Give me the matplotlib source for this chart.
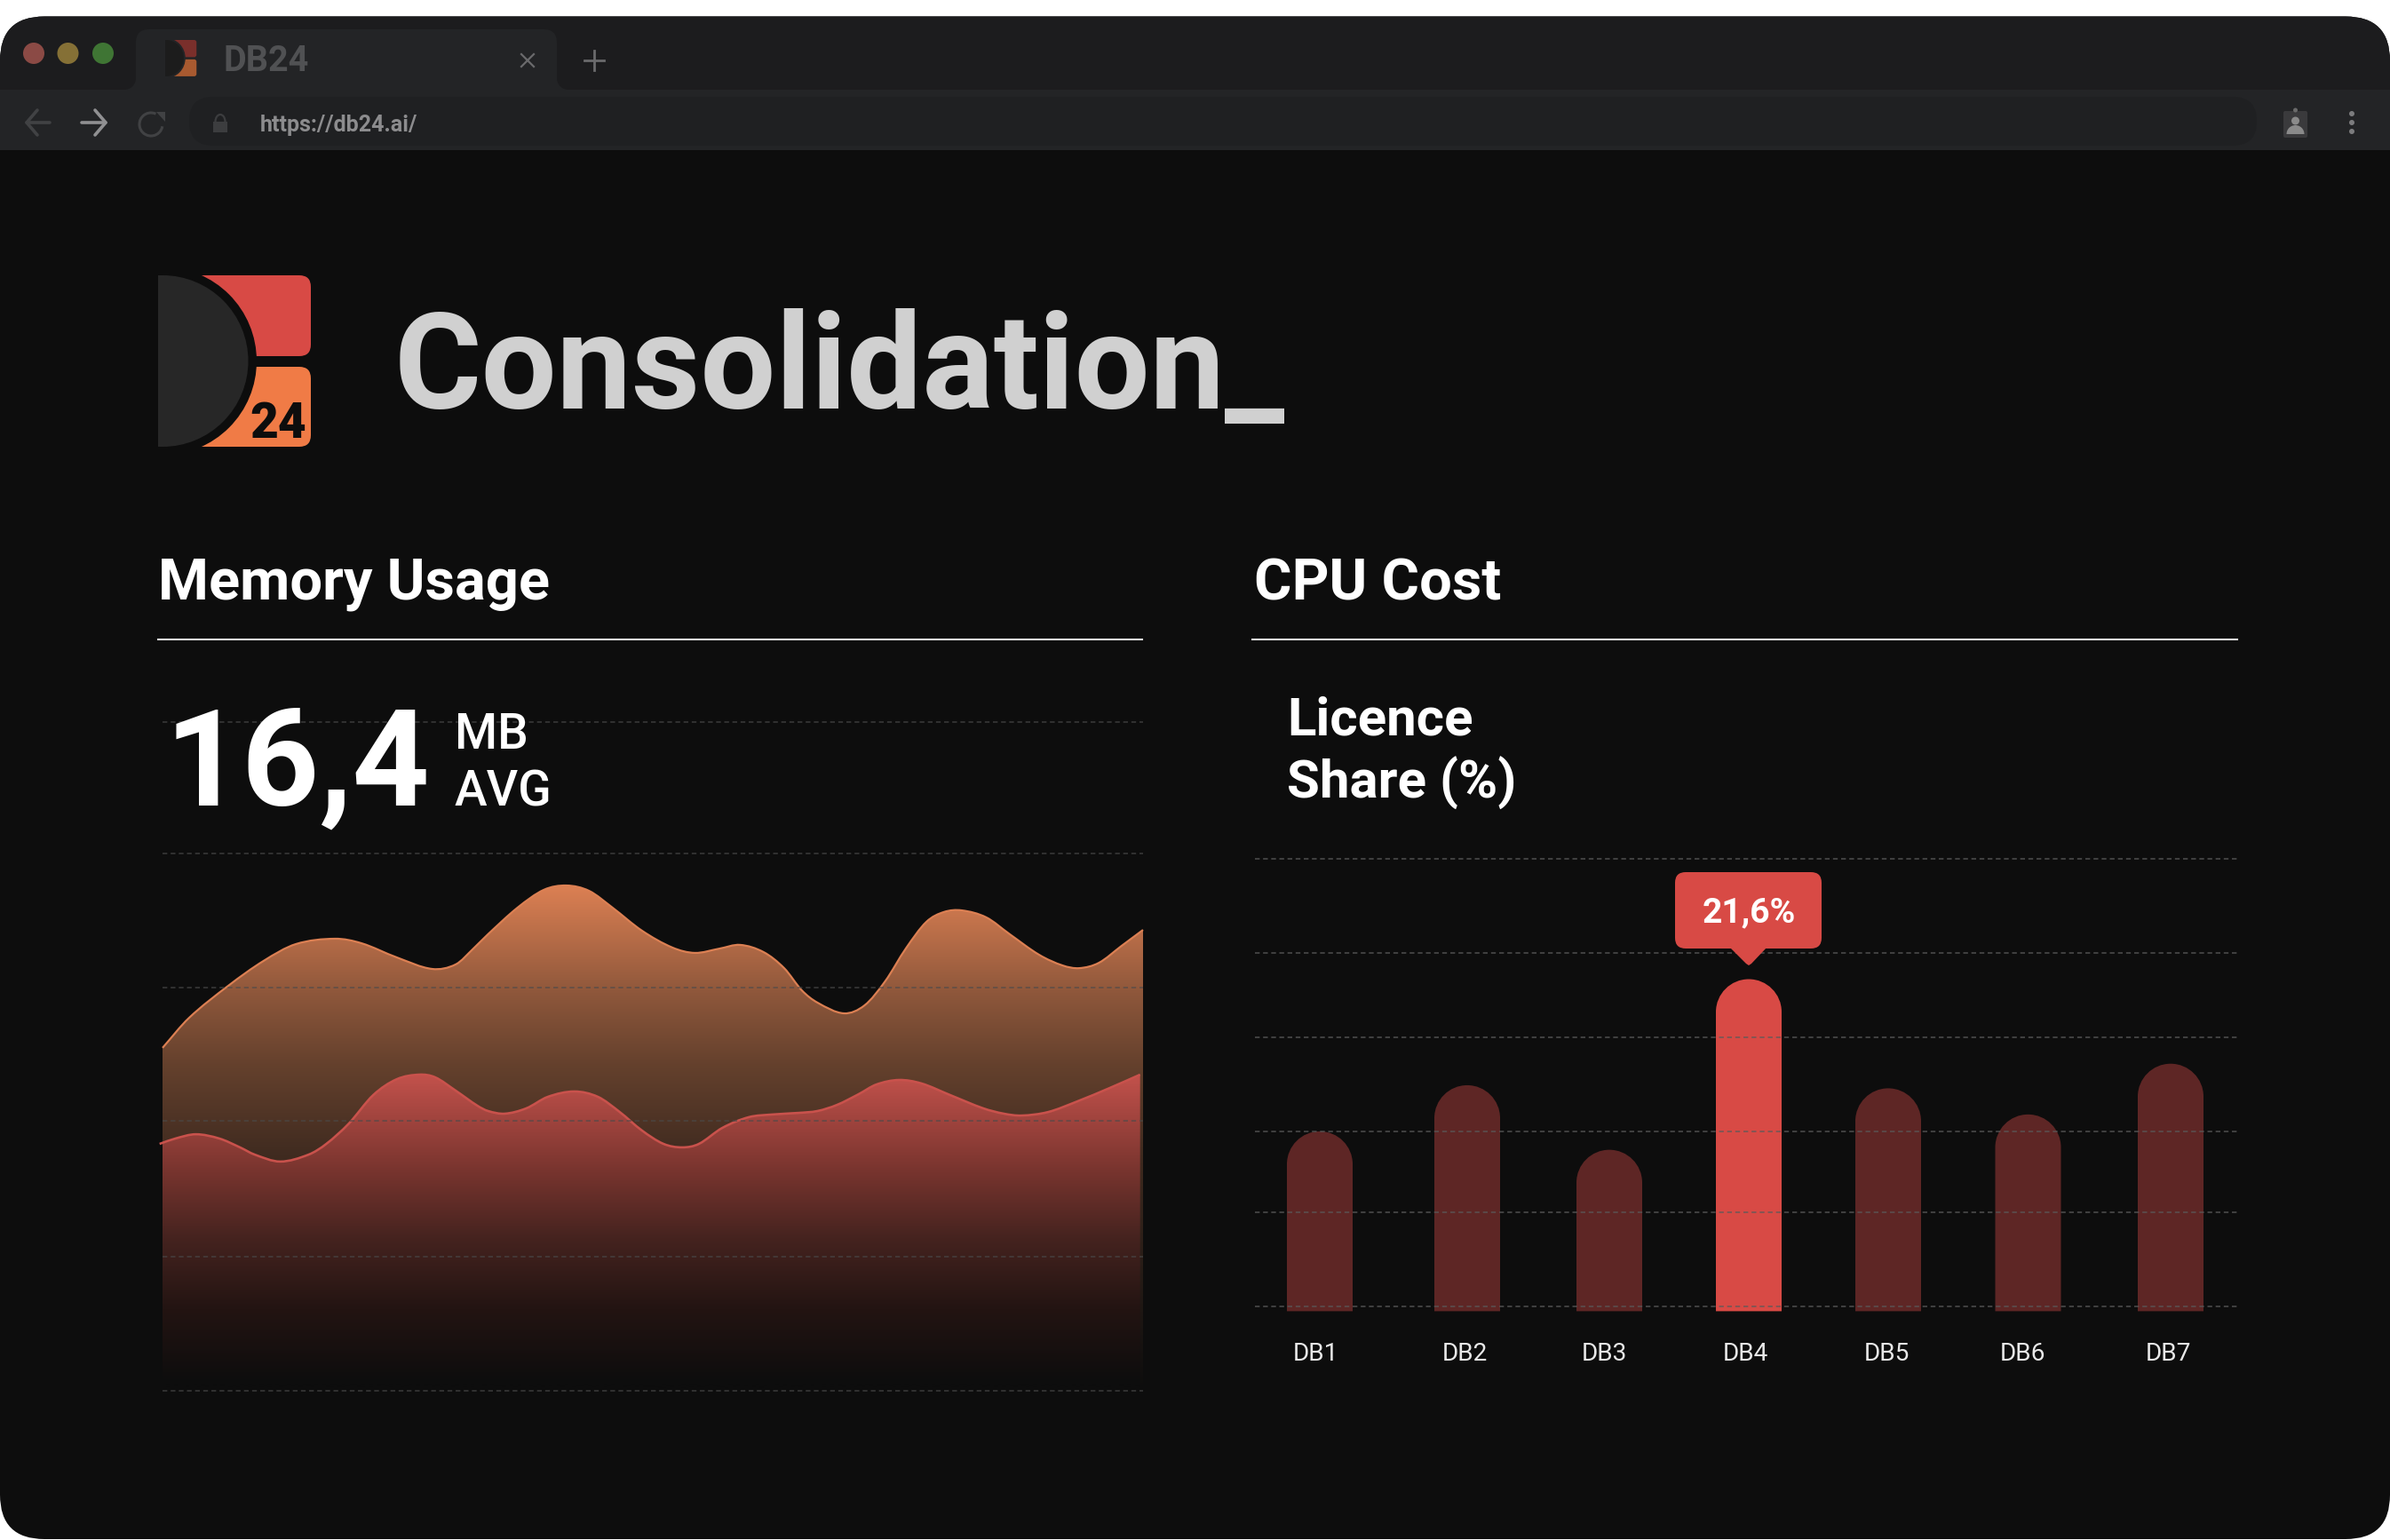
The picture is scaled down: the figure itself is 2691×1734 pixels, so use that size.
"""Consolidation dashboard in a dark browser window."""
import matplotlib
matplotlib.use("Agg")
import matplotlib.pyplot as plt
from matplotlib.colors import to_rgb
from matplotlib.patches import Arc, Circle, Ellipse, FancyBboxPatch, PathPatch, Polygon, Rectangle, Wedge
from matplotlib.path import Path
import numpy as np

plt.rcParams["font.family"] = ["Roboto", "DejaVu Sans"]

W, H = 2691, 1734

# ── Data ────────────────────────────────────────────────────────────────────
UPPER_X = [0, 2.7, 6.7, 10.3, 13.6, 17.6, 20.3, 23.9, 27.5, 29.9, 31.7, 33.2, 36.2, 38.9,
           41.2, 43.5, 45.9, 48.9, 52.0, 54.3, 56.8, 58.9, 61.3, 63.4, 65.2, 66.8, 69.5,
           71.6, 73.7, 75.8, 77.9, 79.7, 81.5, 84.0, 86.4, 89.4, 91.8, 93.5, 95.5, 97.8, 100]
UPPER_Y = [12.82, 13.94, 15.14, 16.07, 16.70, 16.90, 16.73, 16.20, 15.77, 15.94, 16.53,
           17.07, 18.06, 18.73, 18.89, 18.69, 18.06, 17.20, 16.57, 16.37, 16.53, 16.67,
           16.40, 15.80, 14.97, 14.51, 14.11, 14.41, 15.31, 16.53, 17.53, 17.90, 17.96,
           17.70, 17.07, 16.30, 15.90, 15.80, 16.00, 16.63, 17.23]
LOWER_X = [-0.3, 1.3, 3.4, 5.8, 7.9, 9.4, 12.0, 14.9, 16.7, 19.0, 21.5, 23.9, 26.2, 27.8,
           29.9, 32.1, 33.2, 34.9, 37.1, 39.3, 42.0, 44.4, 46.6, 48.9, 51.1, 53.0, 54.7,
           57.1, 59.8, 62.2, 64.9, 66.8, 68.8, 71.0, 72.8, 75.1, 77.4, 80.3, 83.7, 85.8,
           87.6, 90.3, 93.3, 96.6, 99.7]
LOWER_Y = [9.23, 9.43, 9.59, 9.43, 9.10, 8.83, 8.57, 8.83, 9.23, 9.99, 11.06, 11.65, 11.82,
           11.72, 11.22, 10.66, 10.46, 10.36, 10.56, 10.99, 11.19, 10.99, 10.43, 9.73, 9.23,
           9.10, 9.23, 9.83, 10.23, 10.33, 10.39, 10.46, 10.69, 11.09, 11.45, 11.62, 11.49,
           11.06, 10.56, 10.36, 10.29, 10.42, 10.82, 11.32, 11.82]
AREA_GRID = [0, 5.01, 10.09, 15.07, 20.08, 25]

DB_NAMES = ["DB1", "DB2", "DB3", "DB4", "DB5", "DB6", "DB7"]
DB_SHARE = [11.7, 14.7, 10.5, 21.6, 14.5, 12.8, 16.1]
BAR_GRID = [0.31, 6.44, 11.69, 17.82, 23.3, 29.43]

# ── Layout (pixels of the full picture) ─────────────────────────────────────
BAR_X = [1486, 1652, 1812, 1969, 2126, 2283.5, 2444]
LABEL_X = [1481, 1649, 1806, 1965, 2124, 2278, 2441]
BAR_W = 74
PX_PER_PCT = 17.31
BAR_BASE_PX = 1476.4

BG = "#0d0d0d"
STRIP = "#1c1c1e"
TOOLBAR = "#232426"
RED = "#d84a45"
RED_DIM = "#5e2625"
ORANGE = "#f07b46"
GRID = "#4a4a4a"

fig = plt.figure(figsize=(W / 100, H / 100), dpi=100, facecolor="white")


def px_axes(zorder):
    ax = fig.add_axes([0, 0, 1, 1], zorder=zorder)
    ax.set_xlim(0, W)
    ax.set_ylim(H, 0)
    ax.axis("off")
    ax.patch.set_alpha(0)
    return ax


def region_axes(x0, y0, x1, y1, zorder):
    ax = fig.add_axes([x0 / W, 1 - y1 / H, (x1 - x0) / W, (y1 - y0) / H], zorder=zorder)
    ax.patch.set_alpha(0)
    for spine in ax.spines.values():
        spine.set_visible(False)
    return ax


def rounded(ax, x0, y0, x1, y1, r, color, **kw):
    p = FancyBboxPatch((x0, y0), x1 - x0, y1 - y0, boxstyle=f"round,pad=0,rounding_size={r}",
                       fc=color, ec="none", **kw)
    ax.add_patch(p)
    return p


def label(ax, x, y, s, px, color="white", weight="normal", ha="left", va="baseline"):
    return ax.text(x, y, s, fontsize=px * 0.72, color=color, fontweight=weight, ha=ha, va=va)


def smooth_path(xs, ys):
    # cubic hermite through the read points, written as beziers
    x = np.asarray(xs, float)
    y = np.asarray(ys, float)
    m = np.gradient(y, x, edge_order=1)
    m[1:-1] = (y[2:] - y[:-2]) / (x[2:] - x[:-2])
    verts = [(x[0], y[0])]
    codes = [Path.MOVETO]
    for i in range(len(x) - 1):
        dx = x[i + 1] - x[i]
        verts += [(x[i] + dx / 3, y[i] + m[i] * dx / 3),
                  (x[i + 1] - dx / 3, y[i + 1] - m[i + 1] * dx / 3),
                  (x[i + 1], y[i + 1])]
        codes += [Path.CURVE4] * 3
    return verts, codes


def gradient_fill(ax, xs, ys, stops, line_color, lw, z):
    verts, codes = smooth_path(xs, ys)
    closed = verts + [(xs[-1], 0), (xs[0], 0), (xs[0], 0)]
    closed_codes = codes + [Path.LINETO, Path.LINETO, Path.CLOSEPOLY]
    clip = PathPatch(Path(closed, closed_codes), fc="none", ec="none", transform=ax.transData)
    ax.add_patch(clip)
    vals = np.linspace(max(ys), 0, 512)
    levels = [s[0] for s in stops]
    rgb = np.array([to_rgb(s[1]) for s in stops])
    img = np.stack([np.interp(-vals, -np.array(levels), rgb[:, c]) for c in range(3)], axis=1)
    im = ax.imshow(img[:, None, :], extent=(-1, 101, 0, max(ys)), aspect="auto", zorder=z,
                   interpolation="bilinear")
    im.set_clip_path(clip)
    ax.add_patch(PathPatch(Path(verts, codes), fc="none", ec=line_color, lw=lw * 0.72,
                           zorder=z + 0.5, clip_on=False))


def draw_logo(ax, x0, y0, sx, sy, c_red, c_orange, c_d, c_bg):
    # sx, sy scale the 172 x 193 px logo
    ax.add_patch(FancyBboxPatch((x0 + 20 * sx, y0), 152 * sx, 91 * sy,
                                boxstyle=f"round,pad=0,rounding_size={13 * sx}", fc=c_red, ec="none"))
    ax.add_patch(FancyBboxPatch((x0 + 20 * sx, y0 + 103 * sy), 152 * sx, 90 * sy,
                                boxstyle=f"round,pad=0,rounding_size={13 * sx}", fc=c_orange, ec="none"))
    cx, cy = x0 + 5 * sx, y0 + 96.5 * sy
    ax.add_patch(Ellipse((cx, cy), 212 * sx, 212 * sy, fc=c_bg, ec="none"))
    ax.add_patch(Ellipse((cx, cy), 193 * sx, 193 * sy, fc=c_d, ec="none"))
    ax.add_patch(Rectangle((x0 - 110 * sx, y0 - 12 * sy), 110 * sx, 217 * sy, fc=c_bg, ec="none"))
    ax.add_patch(Rectangle((x0, y0), 6 * sx, 193 * sy, fc=c_d, ec="none"))


# ── Window chrome ───────────────────────────────────────────────────────────
ax_bg = px_axes(0)
window = rounded(ax_bg, 0, 18.5, W, H - 1, 50, BG)
for rect in [Rectangle((0, 18), W, 83, fc=STRIP, ec="none"),
             Rectangle((0, 101), W, 68, fc=TOOLBAR, ec="none")]:
    ax_bg.add_patch(rect)
    rect.set_clip_path(window)

rounded(ax_bg, 153, 33, 627, 120, 15, TOOLBAR)
ax_bg.add_patch(Rectangle((140, 88), 13, 13, fc=TOOLBAR, ec="none"))
ax_bg.add_patch(Circle((140, 88), 13, fc=STRIP, ec="none"))
ax_bg.add_patch(Rectangle((627, 88), 13, 13, fc=TOOLBAR, ec="none"))
ax_bg.add_patch(Circle((640, 88), 13, fc=STRIP, ec="none"))
ax_bg.add_patch(Rectangle((0, 101), W, 68, fc=TOOLBAR, ec="none", clip_path=window))

for x, c in [(38, "#8b4a45"), (76.5, "#857036"), (116, "#3f7534")]:
    ax_bg.add_patch(Circle((x, 60), 12, fc=c, ec="none"))

draw_logo(ax_bg, 186, 45, 0.205, 0.212, "#7a2f2b", "#a85a30", "#1c1c1c", TOOLBAR)
label(ax_bg, 252, 80, "DB24", 39.5, "#505153", "bold")
ax_bg.plot([587, 601], [61, 75], color="#6a6a6c", lw=1.6)
ax_bg.plot([587, 601], [75, 61], color="#6a6a6c", lw=1.6)
ax_bg.plot([658, 680], [68, 68], color="#6a6a6c", lw=2)
ax_bg.plot([669, 669], [57, 79], color="#6a6a6c", lw=2)

rounded(ax_bg, 213, 109, 2541, 164, 27, "#1f2022")

for color, x0, x1, head in [("#414244", 56, 30, 12), ("#909092", 92, 119, -12)]:
    ax_bg.plot([x0, x1], [138, 138], color=color, lw=2.6, solid_capstyle="round")
    ax_bg.plot([x1 + head, x1, x1 + head], [124, 138, 152], color=color, lw=2.6, solid_capstyle="round")
ax_bg.add_patch(Arc((170, 140), 26, 26, theta1=10, theta2=295, ec="#414244", lw=2.2))
ax_bg.add_patch(Polygon([[176, 126], [186, 126], [186, 137]], fc="#414244", ec="none"))

ax_bg.add_patch(Rectangle((240, 137), 16, 12, fc="#3c3d3f", ec="none"))
ax_bg.add_patch(Arc((248, 137), 11, 16, theta1=180, theta2=360, ec="#3c3d3f", lw=1.6))
label(ax_bg, 293, 148, "https://db24.ai/", 25, "#8c8c8e", "bold")

rounded(ax_bg, 2571, 125, 2598, 155, 2, "#3a3a3c")
ax_bg.add_patch(Circle((2584.5, 136), 4.5, fc="#8a8a8a", ec="none"))
ax_bg.add_patch(Wedge((2584.5, 151), 10, 180, 360, fc="#8a8a8a", ec="none"))
ax_bg.add_patch(Circle((2584.5, 124), 2.5, fc="#6a6a6a", ec="none"))
for y in [128, 138, 148]:
    ax_bg.add_patch(Circle((2648, y), 3, fc="#7c7c7e", ec="none"))

# ── Header ──────────────────────────────────────────────────────────────────
draw_logo(ax_bg, 178, 310, 1, 1, RED, ORANGE, "#272727", BG)
label(ax_bg, 281, 493, "24", 55, BG, "black")
label(ax_bg, 444, 460, "Consolidation_", 150.5, "#d0d0d0", "bold")

label(ax_bg, 178, 674, "Memory Usage", 65, "white", "bold")
label(ax_bg, 1412, 676, "CPU Cost", 65, "white", "bold")
ax_bg.plot([178, 1286], [720, 720], color="#e6e6e6", lw=1.5)
ax_bg.plot([1410, 2519], [720, 720], color="#e6e6e6", lw=1.5)

# ── Memory area chart ───────────────────────────────────────────────────────
ax_area = region_axes(183, 813, 1287, 1566, 1)
ax_area.set_xlim(0, 100)
ax_area.set_ylim(0, 25)
ax_area.set_xticks([])
ax_area.set_yticks([])
gradient_fill(ax_area, UPPER_X, UPPER_Y,
              [(18.89, "#dc8053"), (14.87, "#8e573b"), (12.24, "#65412d"), (8.83, "#402b20"), (0, BG)],
              "#dc8053", 2.2, 2)
gradient_fill(ax_area, LOWER_X, LOWER_Y,
              [(11.85, "#c4524c"), (8.3, "#7a352f"), (5.68, "#45231f"), (3.05, "#231412"), (0.3, BG), (0, BG)],
              "#c9524c", 2.6, 3)
ax_area.set_xlim(0, 100)
ax_area.set_ylim(0, 25)
for v in AREA_GRID:
    ax_area.axhline(v, color=GRID, lw=1.1, ls=(0, (3.5, 2.5)), alpha=0.75, zorder=5, clip_on=False)

# ── CPU bar chart ───────────────────────────────────────────────────────────
bar_top_px, bar_bottom_px = 960, 1480
ax_bar = region_axes(1413, bar_top_px, 2520, bar_bottom_px, 1)
ax_bar.set_xlim(1413, 2520)
ax_bar.set_ylim((BAR_BASE_PX - bar_bottom_px) / PX_PER_PCT, (BAR_BASE_PX - bar_top_px) / PX_PER_PCT)
ax_bar.set_yticks([])
ax_bar.set_xticks(LABEL_X, DB_NAMES, color="#e8e8e8", fontsize=28 * 0.72)
ax_bar.tick_params(axis="x", length=0, pad=22)

R_PCT = BAR_W / 2 / PX_PER_PCT
K = 0.5523
for i, (xc, v) in enumerate(zip(BAR_X, DB_SHARE)):
    hw = BAR_W / 2
    shoulder = v - R_PCT
    verts = [(xc - hw, 0), (xc - hw, shoulder),
             (xc - hw, shoulder + K * R_PCT), (xc - K * hw, v), (xc, v),
             (xc + K * hw, v), (xc + hw, shoulder + K * R_PCT), (xc + hw, shoulder),
             (xc + hw, 0), (xc - hw, 0)]
    codes = [Path.MOVETO, Path.LINETO, Path.CURVE4, Path.CURVE4, Path.CURVE4,
             Path.CURVE4, Path.CURVE4, Path.CURVE4, Path.LINETO, Path.CLOSEPOLY]
    color = RED if v == max(DB_SHARE) else RED_DIM
    ax_bar.add_patch(PathPatch(Path(verts, codes), fc=color, ec="none", zorder=2))
for v in BAR_GRID:
    ax_bar.axhline(v, color="#5a5a5a", lw=1.1, ls=(0, (3.5, 2.5)), alpha=0.85, zorder=3)

# ── Overlay: big number, subtitle, tooltip ──────────────────────────────────
ax_top = px_axes(5)
label(ax_top, 186, 906, "16,4", 152, "white", "bold")
label(ax_top, 512, 843, "MB", 55, "white", "medium")
label(ax_top, 512, 907, "AVG", 55, "white", "medium")
label(ax_top, 1449, 827, "Licence", 60, "white", "bold")
label(ax_top, 1449, 899, "Share (%)", 60, "white", "bold")

top_i = DB_SHARE.index(max(DB_SHARE))
tip_x = BAR_X[top_i]
ax_top.add_patch(Polygon([[tip_x - 22, 1066], [tip_x + 21, 1066], [tip_x + 3, 1085],
                          [tip_x, 1087], [tip_x - 3, 1085]], fc=RED, ec="none"))
rounded(ax_top, 1886, 982, 2051, 1068, 12, RED)
label(ax_top, tip_x, 1028, f"{DB_SHARE[top_i]:.1f}%".replace(".", ","), 39, "white", "bold", ha="center", va="center")

fig.savefig("out.png", dpi=100, facecolor="white")
